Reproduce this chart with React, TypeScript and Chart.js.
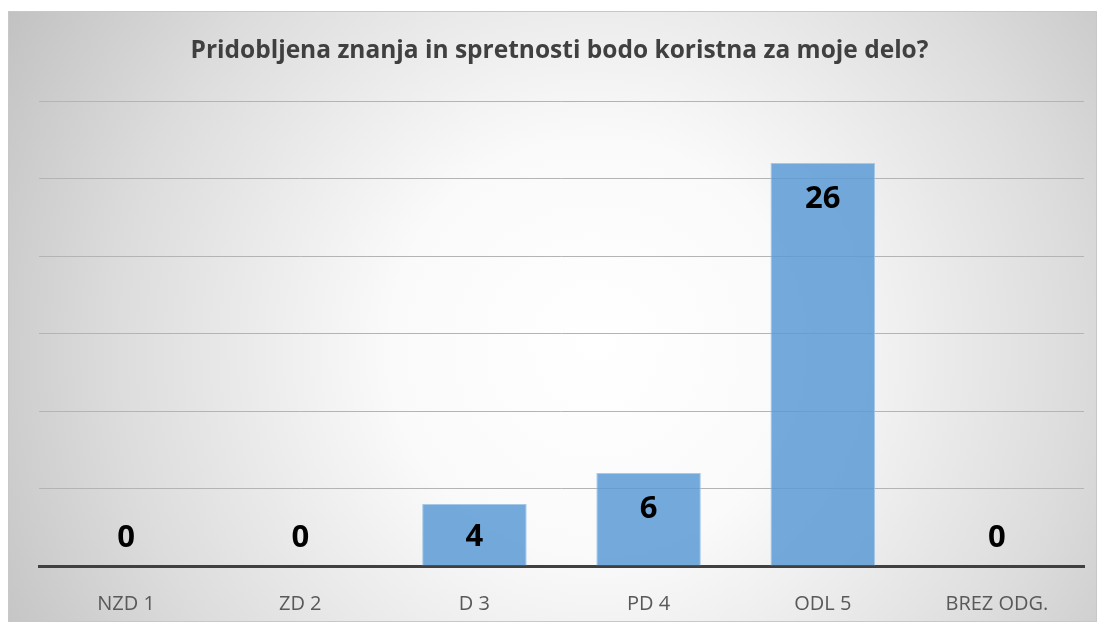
import React, { useEffect, useRef } from "react";
import { Chart, registerables } from "chart.js";

Chart.register(...registerables);

const title = "Pridobljena znanja in spretnosti bodo koristna za moje delo?";
const categories = ["NZD 1", "ZD 2", "D 3", "PD 4", "ODL 5", "BREZ ODG."];
const values = [0, 0, 4, 6, 26, 0];
const yMax = 30;
const yStep = 5;

const bgPlugin = {
  id: "bgGradient",
  beforeDraw(chart: any) {
    const { ctx, width, height } = chart;
    ctx.save();
    const cx = width * 0.54;
    const cy = height * 0.55;
    const r = Math.hypot(width * 0.54, height * 0.55) * 1.02;
    const g = ctx.createRadialGradient(cx, cy, 0, cx, cy, r);
    g.addColorStop(0, "#ffffff");
    g.addColorStop(0.3, "#fafafa");
    g.addColorStop(0.7, "#dcdcdc");
    g.addColorStop(1, "#c0c0c0");
    ctx.fillStyle = g;
    ctx.fillRect(0, 0, width, height);
    ctx.restore();
  },
};

const titlePlugin = {
  id: "titleDraw",
  afterDraw(chart: any) {
    const { ctx, width } = chart;
    ctx.save();
    ctx.font = "bold 24.5px 'Open Sans'";
    ctx.fillStyle = "#404040";
    ctx.textAlign = "center";
    ctx.textBaseline = "middle";
    ctx.fillText(title, width / 2 + 7, 39);
    ctx.restore();
  },
};

const labelPlugin = {
  id: "barLabels",
  afterDatasetsDraw(chart: any) {
    const { ctx } = chart;
    const meta = chart.getDatasetMeta(0);
    ctx.save();
    ctx.font = "bold 31px 'Open Sans'";
    ctx.fillStyle = "#000000";
    ctx.textAlign = "center";
    ctx.textBaseline = "middle";
    meta.data.forEach((bar: any, i: number) => {
      const y = Math.min(bar.y + 36, bar.base - 28);
      ctx.fillText(String(values[i]), bar.x, y);
    });
    ctx.restore();
  },
};

export default function App() {
  const ref = useRef<HTMLCanvasElement>(null);
  useEffect(() => {
    if (!ref.current) return;
    const chart = new Chart(ref.current, {
      type: "bar",
      data: {
        labels: categories,
        datasets: [
          {
            data: values,
            backgroundColor: "rgba(91,155,213,0.85)",
            borderColor: "rgba(157,195,230,0.9)",
            borderWidth: 1,
            barPercentage: 0.6,
            categoryPercentage: 1,
          },
        ],
      },
      options: {
        animation: false,
        responsive: false,
        maintainAspectRatio: false,
        layout: { padding: { left: 30, right: 12, top: 89, bottom: 0 } },
        plugins: {
          legend: { display: false },
          title: { display: false },
          tooltip: { enabled: false },
        },
        scales: {
          x: {
            grid: { display: false },
            border: { display: true, color: "#404040", width: 3 },
            ticks: {
              color: "#595959",
              font: { family: "'Open Sans'", size: 20 },
              padding: 18,
            },
            afterFit(scale: any) {
              scale.height = 55;
            },
          },
          y: {
            min: 0,
            max: yMax,
            ticks: { display: false, stepSize: yStep },
            grid: { color: "#b4b4b4", lineWidth: 1, drawTicks: false },
            border: { display: false },
            afterFit(scale: any) {
              scale.width = 0;
            },
          },
        },
      },
      plugins: [bgPlugin, titlePlugin, labelPlugin],
    });
    return () => chart.destroy();
  }, []);
  return (
    <div
      style={{
        position: "absolute",
        left: 8,
        top: 11,
        width: 1089,
        height: 611,
        boxSizing: "border-box",
        border: "1px solid #c8c8c8",
        overflow: "hidden",
      }}
    >
      <canvas ref={ref} width={1087} height={609} style={{ display: "block" }} />
    </div>
  );
}
